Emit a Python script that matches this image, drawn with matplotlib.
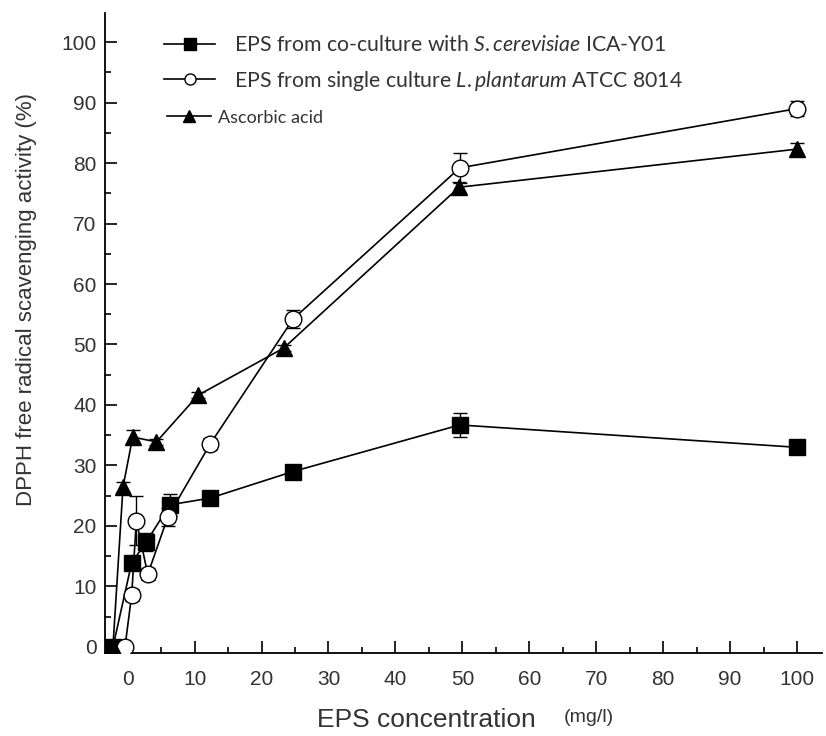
import matplotlib.pyplot as plt
from matplotlib.ticker import MultipleLocator
from matplotlib.lines import Line2D

plt.rcParams['font.family'] = ['Liberation Sans', 'DejaVu Sans']
plt.rcParams['mathtext.fontset'] = 'custom'
plt.rcParams['mathtext.it'] = 'Lato:italic'
plt.rcParams['mathtext.rm'] = 'Lato'

# co-culture EPS (squares)
co_x = [-2.2, 0.6, 2.8, 6.3, 12.3, 24.7, 49.6, 100]
co_y = [0, 13.9, 17.4, 23.5, 24.6, 29.0, 36.7, 33.0]
co_err = [0, 1.0, 1.5, 1.8, 0.8, 0.8, 2.0, 1.0]

# single culture EPS (open circles)
single_x = [-0.4, 0.6, 1.3, 3.0, 6.0, 12.3, 24.7, 49.6, 100]
single_y = [0, 8.6, 20.9, 12.0, 21.5, 33.5, 54.2, 79.2, 89.0]
single_err = [0, 1.0, 4.0, 1.0, 1.5, 1.0, 1.5, 2.5, 1.2]

# ascorbic acid (triangles)
asc_x = [-2.2, -0.7, 0.75, 4.3, 10.5, 23.3, 49.5, 100]
asc_y = [0, 26.4, 34.7, 33.9, 41.6, 49.4, 76.0, 82.3]
asc_err = [0, 0.8, 1.2, 0.5, 0.5, 0.5, 0.8, 1.0]

labels = [r'EPS from co-culture with $\it{S.cerevisiae}$ ICA-Y01',
          r'EPS from single culture $\it{L.plantarum}$ ATCC 8014',
          'Ascorbic acid']

fig = plt.figure(figsize=(8.26, 7.36), dpi=100)
ax = fig.add_axes([0.127, 0.1128, 0.868, 0.8695])

ax.errorbar(co_x, co_y, yerr=co_err, color='black', marker='s', ms=11,
            lw=1.2, capsize=5, elinewidth=1, zorder=3)
ax.errorbar(single_x, single_y, yerr=single_err, color='black', marker='o', ms=12,
            mfc='white', lw=1.2, capsize=5, elinewidth=1, zorder=3)
ax.errorbar(asc_x, asc_y, yerr=asc_err, color='black', marker='^', ms=12,
            lw=1.2, capsize=5, elinewidth=1, zorder=3)

ax.set_xlim(-3.4, 103.7)
ax.set_ylim(-1.0, 104.8)
ax.xaxis.set_major_locator(MultipleLocator(10))
ax.xaxis.set_minor_locator(MultipleLocator(5))
ax.yaxis.set_major_locator(MultipleLocator(10))
ax.yaxis.set_minor_locator(MultipleLocator(5))
ax.set_yticks(range(0, 101, 10))
ax.tick_params(which='both', direction='in', width=1.2, labelsize=15, labelcolor='#333333')
ax.tick_params(which='major', length=8.5)
ax.tick_params(which='minor', length=4.5)
ax.tick_params(axis='x', pad=12)
ax.tick_params(axis='y', pad=6)
for s in ['top', 'right']:
    ax.spines[s].set_visible(False)
for s in ['left', 'bottom']:
    ax.spines[s].set_linewidth(1.3)

ax.set_ylabel('DPPH free radical scavenging activity (%)', fontsize=16, color='#333333')
ax.yaxis.set_label_coords(-0.095, 0.552)
ax.set_xlabel('EPS concentration', fontsize=19, color='#333333')
ax.xaxis.set_label_coords(0.449, -0.086)
fig.text(0.682, 0.014, '(mg/l)', fontsize=14, color='#333333', va='bottom')

handles = [Line2D([], [], color='black', marker='s', ms=8, lw=1.2),
           Line2D([], [], color='black', marker='o', ms=8, mfc='white', lw=1.2),
           Line2D([], [], color='black', marker='^', ms=9, lw=1.2)]
leg1 = ax.legend(handles[:2], labels[:2], loc='upper left', bbox_to_anchor=(0.065, 0.985),
                 frameon=False, prop={'family': 'Lato', 'size': 15.3},
                 handlelength=2.4, handletextpad=0.9, labelspacing=0.62, borderaxespad=0.2)
for t in leg1.get_texts():
    t.set_color('#333333')
ax.add_artist(leg1)
leg2 = ax.legend(handles[2:], labels[2:], loc='upper left', bbox_to_anchor=(0.072, 0.866),
                 frameon=False, prop={'family': 'Lato', 'size': 13},
                 handlelength=2.4, handletextpad=0.4, borderaxespad=0.2)
leg2.get_texts()[0].set_color('#333333')

fig.savefig('out.png', dpi=100)
